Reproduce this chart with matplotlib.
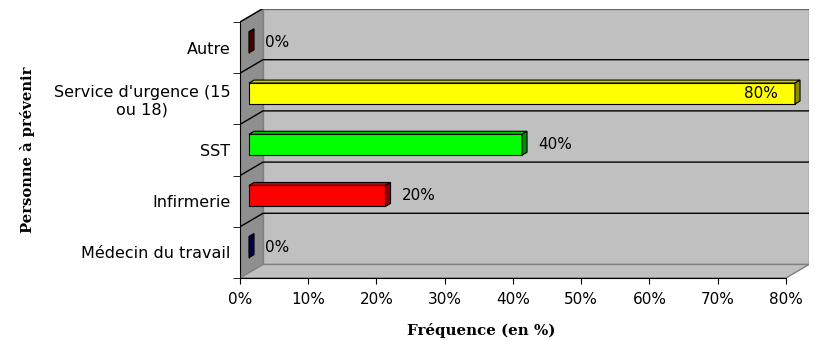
import numpy as np
import matplotlib.pyplot as plt
from matplotlib.colors import to_rgb

# Categories (bottom to top) and their frequencies in %
categories = ['Médecin du travail', 'Infirmerie', 'SST',
              "Service d'urgence (15\nou 18)", 'Autre']
values = [0, 20, 40, 80, 0]
colors = ['#000080', '#FF0000', '#00FF00', '#FFFF00', '#800000']
xticks = [0, 10, 20, 30, 40, 50, 60, 70, 80]

XMAX = 80
DX = 3.37      # depth of the 3D box, in x units
DY = 0.264     # depth of the 3D box, in y units
BAR_H = 0.41   # bar thickness
BAR_POS = 0.39  # where the bar sits inside the depth
BAR_D = 0.22    # bar depth as a fraction of the box depth

plt.rcParams['font.family'] = 'DejaVu Sans'

fig = plt.figure(figsize=(8.17, 3.41), dpi=100)
ax = fig.add_axes([240 / 817, 63 / 341, 569 / 817, 269.5 / 341])
ax.set_xlim(0, XMAX + DX)
ax.set_ylim(-0.5, len(categories) - 0.5 + DY)
ax.patch.set_visible(False)

n = len(categories)
y0, y1 = -0.5, n - 0.5

# back wall
ax.fill([DX, XMAX + DX, XMAX + DX, DX], [y0 + DY, y0 + DY, y1 + DY, y1 + DY],
        facecolor='#C0C0C0', edgecolor='#808080', lw=1, zorder=1)
# left wall
ax.fill([0, DX, DX, 0], [y0, y0 + DY, y1 + DY, y1],
        facecolor='#8f8f8f', edgecolor='#808080', lw=1, zorder=1)
# floor
ax.fill([0, XMAX, XMAX + DX, DX], [y0, y0, y0 + DY, y0 + DY],
        facecolor='#C0C0C0', edgecolor='#808080', lw=1, zorder=1)

# gridlines between categories
for k in range(1, n + 1):
    yb = k - 0.5
    ax.plot([0, DX, XMAX + DX], [yb, yb + DY, yb + DY], color='black', lw=1, zorder=2)

# 3D bars
ox, oy = BAR_POS * DX, BAR_POS * DY
bdx, bdy = BAR_D * DX, BAR_D * DY
for i, (v, c) in enumerate(zip(values, colors)):
    rgb = np.array(to_rgb(c))
    bot, top = i - BAR_H / 2 + oy, i + BAR_H / 2 + oy
    x0, x1 = ox, v + ox
    ax.fill([x0, x1, x1, x0], [bot, bot, top, top],
            facecolor=rgb, edgecolor='black', lw=0.8, zorder=3)
    ax.fill([x0, x1, x1 + bdx, x0 + bdx], [top, top, top + bdy, top + bdy],
            facecolor=rgb * 0.8, edgecolor='black', lw=0.8, zorder=3)
    ax.fill([x1, x1 + bdx, x1 + bdx, x1], [bot, bot + bdy, top + bdy, top],
            facecolor=rgb * 0.55, edgecolor='black', lw=0.8, zorder=3)

    label = f'{v}%'
    if v >= XMAX:
        ax.annotate(label, (x1, i + oy), xytext=(-17, 0), textcoords='offset pixels',
                    ha='right', va='center', fontsize=11, zorder=4)
    else:
        ax.annotate(label, (x1 + bdx, i + oy), xytext=(11, 0), textcoords='offset pixels',
                    ha='left', va='center', fontsize=11, zorder=4)

# axes and ticks
for side in ['top', 'right']:
    ax.spines[side].set_visible(False)
ax.spines['left'].set_bounds(y0, y1)
ax.spines['bottom'].set_bounds(0, XMAX)
ax.spines['left'].set_zorder(5)
ax.spines['bottom'].set_zorder(5)

ax.set_xticks(xticks)
ax.set_xticklabels([f'{t}%' for t in xticks], fontsize=11)
ax.tick_params(axis='x', length=4, pad=6)

ax.set_yticks(range(n))
ax.set_yticklabels(categories, fontsize=11.5)
for t in ax.get_yticklabels():
    t.set_multialignment('center')
ax.set_yticks(np.arange(y0, y1 + 0.1, 1), minor=True)
ax.tick_params(axis='y', which='major', length=0, pad=7)
ax.tick_params(axis='y', which='minor', length=5)

fig.text(481 / 817, 1 - 331 / 341, 'Fréquence (en %)', ha='center', va='center',
         family='DejaVu Serif', fontweight='bold', fontsize=10.8)
fig.text(28 / 817, 1 - 150 / 341, 'Personne à prévenir', ha='center', va='center',
         rotation=90, family='DejaVu Serif', fontweight='bold', fontsize=10.6)

fig.savefig('out.png', dpi=100)
